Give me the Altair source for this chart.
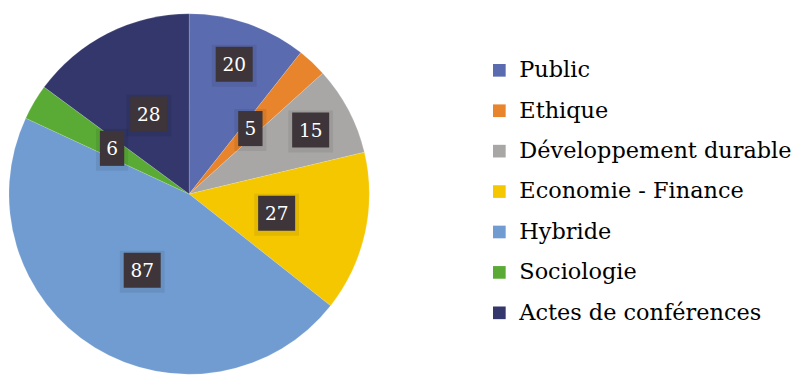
import altair as alt
import pandas as pd

categories = ["Public", "Ethique", "Développement durable", "Economie - Finance",
              "Hybride", "Sociologie", "Actes de conférences"]
values = [20, 5, 15, 27, 87, 6, 28]
colors = ["#5b6baf", "#e8842b", "#a9a6a6", "#f4c700", "#709cd1", "#5aab36", "#33376b"]

FONT = "DejaVu Serif"

df = pd.DataFrame({"cat": categories, "value": values, "idx": list(range(len(values)))})

R = 185
base = alt.Chart(df)

pie = base.mark_arc(outerRadius=R, stroke="#ffffff", strokeWidth=0.3, strokeOpacity=0.5).encode(
    theta=alt.Theta("value:Q", stack=True),
    color=alt.Color(
        "cat:N",
        sort=categories,
        scale=alt.Scale(domain=categories, range=colors),
        legend=alt.Legend(
            title=None, orient="none", legendX=492, legendY=46.5,
            symbolType="square", symbolSize=169, symbolStrokeWidth=0,
            labelFont=FONT, labelFontSize=23, labelColor="#000000",
            labelLimit=400, rowPadding=17.5, labelOffset=9,
        ),
    ),
    order=alt.Order("idx:Q"),
)

lab = (
    base.transform_joinaggregate(total="sum(value)")
    .transform_window(cum="sum(value)", sort=[alt.SortField("idx")], frame=[None, 0])
    .transform_calculate(
        mid="(datum.cum - datum.value/2) / datum.total * 2 * PI",
        r="indexof(['Public', 'Développement durable'], datum.cat) >= 0 ? 141 : 92",
        px="datum.r * sin(datum.mid)",
        py="datum.r * cos(datum.mid)",
        hw="length(toString(datum.value)) * 6.5 + 6",
        x1="datum.px - datum.hw",
        x2="datum.px + datum.hw",
        y1="datum.py - 18",
        y2="datum.py + 18",
        sx1="datum.px - datum.hw - 4",
        sx2="datum.px + datum.hw + 4",
        sy1="datum.py - 23",
        sy2="datum.py + 20",
    )
)

xs = alt.Scale(domain=[-R, R], nice=False, zero=False)
ys = alt.Scale(domain=[-R, R], nice=False, zero=False)

shadow = lab.mark_rect(color="#000000", opacity=0.07).encode(
    x=alt.X("sx1:Q", scale=xs, axis=None),
    x2="sx2:Q",
    y=alt.Y("sy1:Q", scale=ys, axis=None),
    y2="sy2:Q",
)

box = lab.mark_rect(color="#3d3539").encode(
    x=alt.X("x1:Q", scale=xs, axis=None),
    x2="x2:Q",
    y=alt.Y("y1:Q", scale=ys, axis=None),
    y2="y2:Q",
)

txt = lab.mark_text(font=FONT, fontSize=19, color="#ffffff",
                    baseline="middle", align="center", dy=1).encode(
    x=alt.X("px:Q", scale=xs, axis=None),
    y=alt.Y("py:Q", scale=ys, axis=None),
    text="value:Q",
)

chart = (
    alt.layer(pie, shadow, box, txt)
    .properties(width=2 * R, height=2 * R, padding=0, background="#ffffff")
    .configure_view(stroke=None)
)

chart.save("out.html", embed_options={"renderer": "svg", "actions": False})
